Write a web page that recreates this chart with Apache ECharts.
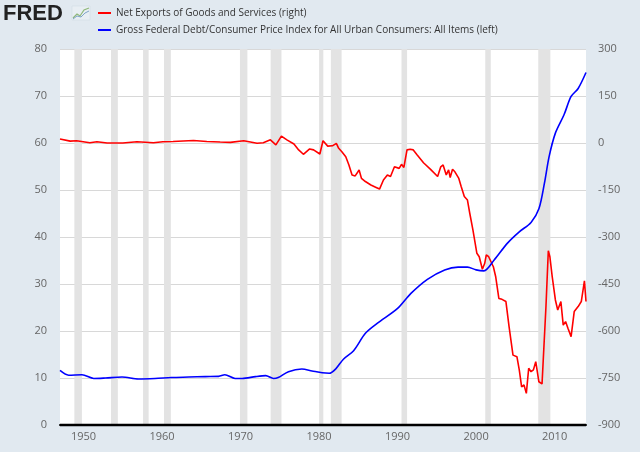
<!DOCTYPE html>
<html>
<head>
<meta charset="utf-8">
<script src="https://cdn.jsdelivr.net/npm/echarts@6/dist/echarts.min.js"></script>
<style>
html,body{margin:0;padding:0;background:#e1e9f0;}
#chart{width:640px;height:452px;}
</style>
</head>
<body>
<div id="chart"></div>
<script>
// Net Exports of Goods and Services (billions, right axis) — decimal year / value
const exportYears = [1947.0,1948.3,1949.1,1950.8,1951.7,1953.0,1955.0,1956.8,1958.9,1960.1,1961.4,1964.0,1965.7,1967.4,1968.7,1970.4,1972.1,1972.9,1973.8,1974.5,1975.2,1975.9,1976.8,1977.4,1978.0,1978.8,1979.3,1980.1,1980.5,1981.1,1981.7,1982.2,1982.5,1982.9,1983.4,1983.8,1984.2,1984.6,1985.1,1985.4,1985.9,1986.6,1987.2,1987.7,1988.2,1988.7,1989.1,1989.6,1990.2,1990.5,1990.8,1991.2,1991.6,1992.0,1992.5,1993.3,1994.2,1995.1,1995.5,1995.8,1996.2,1996.5,1996.7,1997.0,1997.3,1997.8,1998.1,1998.5,1998.9,1999.2,1999.6,2000.1,2000.4,2000.8,2001.1,2001.3,2001.6,2001.8,2002.2,2002.5,2002.9,2003.3,2003.8,2004.2,2004.7,2005.2,2005.5,2005.8,2006.1,2006.4,2006.7,2007.0,2007.3,2007.6,2008.0,2008.4,2008.9,2009.2,2009.4,2009.7,2010.1,2010.4,2010.8,2011.1,2011.4,2011.7,2012.1,2012.5,2013.0,2013.4,2013.8,2014.0];
const exportValues = [13,6,7,1,4,0,0,4,1,4,5,8,5,3,2,7,-1,1,10,-6,22,10,-3,-22,-36,-19,-22,-35,7,-10,-9,-1,-17,-28,-44,-70,-102,-105,-86,-113,-123,-134,-141,-147,-118,-102,-107,-76,-81,-68,-78,-22,-20,-22,-38,-63,-84,-107,-76,-70,-102,-86,-110,-84,-92,-113,-139,-171,-182,-225,-278,-352,-363,-403,-384,-357,-363,-357,-395,-427,-496,-499,-506,-586,-677,-682,-724,-778,-772,-799,-719,-730,-724,-698,-762,-769,-522,-344,-363,-427,-501,-533,-506,-581,-570,-591,-618,-538,-522,-506,-440,-506];

// Gross Federal Debt / CPI (left axis)
const debtYears = [1947.0,1948.1,1949.8,1951.3,1952.8,1954.9,1957.0,1959.1,1961.2,1963.4,1965.5,1967.2,1968.0,1969.3,1970.2,1971.9,1973.2,1974.2,1974.8,1976.1,1977.8,1979.1,1980.4,1981.3,1982.1,1983.1,1984.4,1985.9,1987.4,1990.0,1991.7,1993.8,1996.0,1997.7,1998.9,2000.0,2001.0,2002.3,2004.0,2005.5,2007.0,2008.0,2008.7,2009.3,2010.1,2011.2,2012.1,2013.0,2014.0];
const debtValues = [11.6,10.6,10.7,9.9,10.0,10.2,9.8,9.9,10.1,10.2,10.3,10.35,10.7,9.9,9.9,10.3,10.5,9.9,10.1,11.35,11.9,11.5,11.1,11.0,11.9,14.0,15.8,19.5,21.6,24.8,28.0,31.0,33.0,33.6,33.6,33.0,32.8,35.1,38.7,41.1,43.1,46.0,51.4,57.1,62.1,66.0,69.9,71.6,75.0];

// NBER recessions (decimal years: start, end)
const recessionStarts = [1948.83,1953.50,1957.58,1960.25,1969.92,1973.83,1980.00,1981.50,1990.50,2001.17,2007.92];
const recessionEnds   = [1949.79,1954.37,1958.29,1961.12,1970.87,1975.21,1980.54,1982.87,1991.21,2001.87,2009.46];

const xTicks = [1950,1960,1970,1980,1990,2000,2010];
const xRange = [1947, 2014];

const seriesNames = ['Net Exports of Goods and Services (right)','Gross Federal Debt/Consumer Price Index for All Urban Consumers: All Items (left)'];

const chart = echarts.init(document.getElementById('chart'));
const font = "'Open Sans', 'DejaVu Sans', sans-serif";

const option = {
  backgroundColor: '#e1e9f0',
  animation: false,
  textStyle: {fontFamily: font},
  grid: {left: 60, right: 54, top: 49, bottom: 27, containLabel: false, show: true, backgroundColor: '#ffffff', borderWidth: 0},
  legend: {
    orient: 'vertical', left: 98, top: 7, padding: 0,
    icon: 'rect', itemWidth: 13, itemHeight: 2, itemGap: 5,
    textStyle: {fontSize: 10, lineHeight: 12, color: '#333', fontFamily: font},
    data: seriesNames
  },
  graphic: [
    {type: 'text', left: 3, top: 3, style: {text: 'FRED', font: "900 22px 'Liberation Sans', Arial, sans-serif", fill: '#222'}},
    {type: 'rect', shape: {x: 72, y: 6, width: 18, height: 14}, style: {fill: '#e8eef3', stroke: '#cfd8e0', lineWidth: 0.5}},
    {type: 'polyline', shape: {points: [[73,18],[77,14],[80,16],[84,10],[89,8]]}, style: {stroke: '#8fb87a', lineWidth: 1.2, fill: null}},
    {type: 'polyline', shape: {points: [[73,19],[77,16],[81,17],[85,13],[89,11]]}, style: {stroke: '#7fa4c8', lineWidth: 1, fill: null}}
  ],
  xAxis: {
    type: 'value', min: xRange[0], max: xRange[1], position: 'bottom',
    axisLine: {show: true, onZero: false, lineStyle: {color: '#000000', width: 2}},
    axisTick: {show: false},
    splitLine: {show: false},
    axisLabel: {customValues: xTicks, color: '#666', fontSize: 11, margin: 6, formatter: v => String(Math.round(v))}
  },
  yAxis: [
    {
      type: 'value', min: 0, max: 80, interval: 10, position: 'left',
      axisLine: {show: false}, axisTick: {show: false},
      splitLine: {show: true, lineStyle: {color: '#d8d8d8', width: 1}},
      axisLabel: {color: '#666', fontSize: 11, margin: 13}
    },
    {
      type: 'value', min: -900, max: 300, interval: 150, position: 'right',
      axisLine: {show: false}, axisTick: {show: false},
      splitLine: {show: false},
      axisLabel: {color: '#666', fontSize: 11, margin: 12}
    }
  ],
  series: [
    {
      name: seriesNames[0], type: 'line', yAxisIndex: 1, showSymbol: false,
      data: exportYears.map((y, i) => [y, exportValues[i]]),
      lineStyle: {color: '#ff0000', width: 1.6}, itemStyle: {color: '#ff0000'},
      z: 3,
      markArea: {
        silent: true,
        itemStyle: {color: '#e3e3e3'},
        data: recessionStarts.map((s, i) => [{xAxis: s}, {xAxis: recessionEnds[i]}])
      }
    },
    {
      name: seriesNames[1], type: 'line', yAxisIndex: 0, showSymbol: false, smooth: 0.3,
      data: debtYears.map((y, i) => [y, debtValues[i]]),
      lineStyle: {color: '#0000ff', width: 1.6}, itemStyle: {color: '#0000ff'},
      z: 4
    },
    {
      name: 'baseline', type: 'line', yAxisIndex: 0, showSymbol: false, silent: true, clip: false,
      data: xRange.map(x => [x, 0]),
      lineStyle: {color: '#000000', width: 2.5}, itemStyle: {color: '#000000'},
      z: 6
    }
  ]
};
chart.setOption(option);
</script>
</body>
</html>
